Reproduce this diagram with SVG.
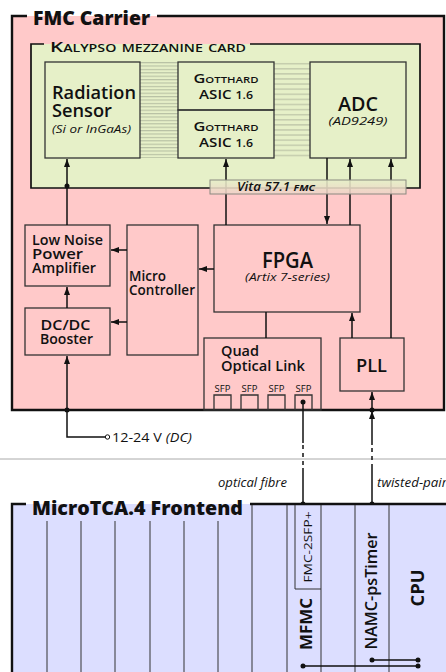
<svg xmlns="http://www.w3.org/2000/svg" width="446" height="672" viewBox="0 0 446 672">
<defs>
<style>
text{font-family:"Open Sans","Noto Sans","DejaVu Sans",sans-serif;fill:#111}
.box{fill:none;stroke:#333;stroke-width:1.3}
.frame{fill:none;stroke:#111;stroke-width:2.4}
.ln{fill:none;stroke:#111;stroke-width:1.5}
.dash{fill:none;stroke:#111;stroke-width:1.5;stroke-dasharray:4 4}
.slot{fill:none;stroke:#333;stroke-width:1}
.t14{font-size:13.5px;font-weight:600}
.it{font-style:italic}
.dot{fill:#111}
</style>
<marker id="ah" viewBox="0 0 8 8" refX="8" refY="4" markerWidth="8" markerHeight="8" markerUnits="userSpaceOnUse" orient="auto"><path d="M0,1 L8,4 L0,7 z" fill="#111"/></marker>
<linearGradient id="vita" x1="0" y1="0" x2="0" y2="1"><stop offset="0" stop-color="#e6efc8"/><stop offset="1" stop-color="#f0d2c8"/></linearGradient>
<pattern id="h1" width="6" height="3.4" patternUnits="userSpaceOnUse"><rect width="6" height="3.4" fill="#e6f0c8"/><line x1="0" y1="1.5" x2="6" y2="1.5" stroke="#9fa68f" stroke-width="0.8"/></pattern>
<pattern id="h2" width="6" height="5.1" patternUnits="userSpaceOnUse"><rect width="6" height="5.1" fill="#e6f0c8"/><line x1="0" y1="2.5" x2="6" y2="2.5" stroke="#9fa68f" stroke-width="0.8"/></pattern>
</defs>

<rect width="446" height="672" fill="#fff"/>
<line x1="0" y1="459" x2="446" y2="459" stroke="#aaa" stroke-width="1"/>

<g id="fmc-carrier">
<rect x="12" y="16" width="432" height="394" fill="#ffc9c9"/>
<path class="frame" d="M27,16 H12 V410 H444 V16 H157"/>
<text x="33" y="25" font-size="18.5" font-weight="800" textLength="117" lengthAdjust="spacingAndGlyphs">FMC Carrier</text>
</g>

<g id="kalypso">
<rect x="31" y="44" width="389" height="144" fill="#e6f0c8"/>
<path fill="none" stroke="#111" stroke-width="1.7" d="M44,44 H31 V188 H420 V44 H250"/>
<text x="50" y="52" font-size="14.5" font-variant="small-caps" font-weight="600" textLength="196" lengthAdjust="spacingAndGlyphs">Kalypso mezzanine card</text>
</g>

<g id="hatch">
<rect x="140" y="62" width="38" height="96" fill="url(#h1)"/>
<rect x="274" y="62" width="36" height="96" fill="url(#h2)"/>
</g>

<g id="sensor">
<rect class="box" x="45" y="62" width="95" height="96"/>
<text x="52" y="99" font-size="18" font-weight="600" textLength="84" lengthAdjust="spacingAndGlyphs">Radiation</text>
<text x="52" y="117" font-size="18" font-weight="600" textLength="60" lengthAdjust="spacingAndGlyphs">Sensor</text>
<text x="52" y="133" font-size="10.5" class="it" textLength="79" lengthAdjust="spacingAndGlyphs">(Si or InGaAs)</text>
</g>

<g id="asic1">
<rect class="box" x="178" y="62" width="96" height="48"/>
<text x="226" y="83" font-size="13" font-weight="600" font-variant="small-caps" text-anchor="middle" textLength="65" lengthAdjust="spacingAndGlyphs">Gotthard</text>
<text x="226" y="99" font-size="13" font-weight="600" text-anchor="middle" textLength="54" lengthAdjust="spacingAndGlyphs">ASIC <tspan font-size="10.5">1.6</tspan></text>
</g>
<g id="asic2">
<rect class="box" x="178" y="110" width="96" height="48"/>
<text x="226" y="131" font-size="13" font-weight="600" font-variant="small-caps" text-anchor="middle" textLength="65" lengthAdjust="spacingAndGlyphs">Gotthard</text>
<text x="226" y="147" font-size="13" font-weight="600" text-anchor="middle" textLength="54" lengthAdjust="spacingAndGlyphs">ASIC <tspan font-size="10.5">1.6</tspan></text>
</g>

<g id="adc">
<rect class="box" x="310" y="62" width="96" height="96"/>
<text x="358" y="111" font-size="20" font-weight="600" text-anchor="middle" textLength="40" lengthAdjust="spacingAndGlyphs">ADC</text>
<text x="358" y="125" font-size="11" class="it" text-anchor="middle" textLength="59" lengthAdjust="spacingAndGlyphs">(AD9249)</text>
</g>

<g id="lnpa">
<rect class="box" x="25" y="225" width="85" height="61"/>
<text x="32" y="245" class="t14" textLength="71" lengthAdjust="spacingAndGlyphs">Low Noise</text>
<text x="32" y="259" class="t14" textLength="51" lengthAdjust="spacingAndGlyphs">Power</text>
<text x="32" y="273" class="t14" textLength="64" lengthAdjust="spacingAndGlyphs">Amplifier</text>
</g>

<g id="dcdc">
<rect class="box" x="25" y="308" width="85" height="47"/>
<text x="65.5" y="330" class="t14" text-anchor="middle" textLength="50" lengthAdjust="spacingAndGlyphs">DC/DC</text>
<text x="66.5" y="344" class="t14" text-anchor="middle" textLength="53" lengthAdjust="spacingAndGlyphs">Booster</text>
</g>

<g id="micro">
<rect class="box" x="127" y="225" width="71" height="130"/>
<text x="129" y="281" class="t14" textLength="37" lengthAdjust="spacingAndGlyphs">Micro</text>
<text x="129" y="295" class="t14" textLength="66" lengthAdjust="spacingAndGlyphs">Controller</text>
</g>

<g id="fpga">
<rect class="box" x="214" y="225" width="146" height="87"/>
<text x="287.5" y="268" font-size="21" font-weight="600" text-anchor="middle" textLength="51" lengthAdjust="spacingAndGlyphs">FPGA</text>
<text x="287.5" y="281" font-size="11.5" class="it" text-anchor="middle" textLength="85" lengthAdjust="spacingAndGlyphs">(Artix 7-series)</text>
</g>

<g id="quad">
<rect class="box" x="204" y="338" width="117" height="72"/>
<text x="221" y="356" class="t14" textLength="38" lengthAdjust="spacingAndGlyphs">Quad</text>
<text x="221" y="371" class="t14" textLength="84" lengthAdjust="spacingAndGlyphs">Optical Link</text>
<g font-size="9.5" text-anchor="middle">
<text x="222.5" y="392">SFP</text><text x="249.5" y="392">SFP</text><text x="276.5" y="392">SFP</text><text x="303.5" y="392">SFP</text>
</g>
<path class="box" d="M214,410 V395 H231 V410 M241,410 V395 H258 V410 M268,410 V395 H285 V410 M295,410 V395 H312 V410"/>
</g>

<g id="pll">
<rect class="box" x="340" y="338" width="64" height="53"/>
<text x="371.5" y="372" font-size="18" font-weight="600" text-anchor="middle" textLength="31" lengthAdjust="spacingAndGlyphs">PLL</text>
</g>

<g id="connectors">
<path class="ln" d="M67,225 V159" marker-end="url(#ah)"/>
<circle class="dot" cx="67" cy="186" r="2.5"/>
<path class="ln" d="M226,225 V159" marker-end="url(#ah)"/>
<path class="ln" d="M327,158 V224" marker-end="url(#ah)"/>
<path class="ln" d="M350,225 V159" marker-end="url(#ah)"/>
<path class="ln" d="M391,338 V159" marker-end="url(#ah)"/>
<path class="ln" d="M127,250 H111" marker-end="url(#ah)"/>
<path class="ln" d="M127,322 H111" marker-end="url(#ah)"/>
<path class="ln" d="M214,269 H199" marker-end="url(#ah)"/>
<path class="ln" d="M67,308 V287" marker-end="url(#ah)"/>
<path class="ln" d="M67,410 V356" marker-end="url(#ah)"/>
<path class="ln" d="M67,410 V437 H105"/>
<circle cx="107.5" cy="437" r="2.2" fill="#fff" stroke="#111" stroke-width="1"/>
<circle class="dot" cx="67" cy="410" r="2.5"/>
<path class="ln" d="M266,312 V338"/>
<path class="ln" d="M352,338 V313" marker-end="url(#ah)"/>
<path class="ln" d="M303,402 V443"/>
<path class="dash" d="M303,445 V468"/>
<path class="ln" d="M303,468 V504"/>
<circle class="dot" cx="303" cy="402" r="2.5"/>
<circle class="dot" cx="303" cy="504" r="2.5"/>
<path class="ln" d="M372,504 V468"/>
<path class="dash" d="M372,468 V445"/>
<path class="ln" d="M372,445 V411" marker-end="url(#ah)"/>
<path class="ln" d="M372,410 V392" marker-end="url(#ah)"/>
<circle class="dot" cx="372" cy="410" r="2.5"/>
<circle class="dot" cx="372" cy="504" r="2.5"/>
</g>

<g id="vita">
<rect x="210" y="180" width="196" height="14" fill="url(#vita)" fill-opacity="0.88" stroke="#8a8a80" stroke-width="1"/>
<text x="237" y="191" font-size="12" class="it" font-weight="600" textLength="78" lengthAdjust="spacingAndGlyphs">Vita 57.1 <tspan font-size="9.5" font-weight="700">FMC</tspan></text>
</g>

<g id="labels">
<text x="112" y="442" font-size="13" font-weight="500" textLength="80" lengthAdjust="spacingAndGlyphs">12-24 V <tspan class="it">(DC)</tspan></text>
<text x="287" y="487" font-size="12" class="it" text-anchor="end" textLength="69" lengthAdjust="spacingAndGlyphs">optical fibre</text>
<text x="377" y="487" font-size="12" class="it" textLength="70" lengthAdjust="spacingAndGlyphs">twisted-pair</text>
</g>

<g id="frontend">
<rect x="12" y="504" width="440" height="180" fill="#dcdeff"/>
<path class="frame" d="M26,504 H12 V680 M250,504 H450"/>
<text x="32" y="515" font-size="19" font-weight="800" textLength="211" lengthAdjust="spacingAndGlyphs">MicroTCA.4 Frontend</text>
<path class="slot" d="M47,521 V672 M81,521 V672 M115,521 V672 M150,521 V672 M184,521 V672 M218,521 V672 M252,505 V672 M287,505 V672 M321,505 V672 M355,505 V672 M389,505 V672"/>
</g>

<g id="fmc-2sfp">
<path class="slot" d="M295,505 V589 H321"/>
<text transform="translate(312,547) rotate(-90)" font-size="11" text-anchor="middle" textLength="71" lengthAdjust="spacingAndGlyphs">FMC-2SFP+</text>
</g>
<g id="mfmc">
<text transform="translate(312,624) rotate(-90)" font-size="16" font-weight="700" text-anchor="middle" textLength="52" lengthAdjust="spacingAndGlyphs">MFMC</text>
</g>
<g id="namc">
<text transform="translate(377,591) rotate(-90)" font-size="16.5" font-weight="600" text-anchor="middle" textLength="117" lengthAdjust="spacingAndGlyphs">NAMC-psTimer</text>
</g>
<g id="cpu">
<text transform="translate(424,588) rotate(-90)" font-size="18" font-weight="700" text-anchor="middle" textLength="37" lengthAdjust="spacingAndGlyphs">CPU</text>
</g>

<g id="bus">
<path class="ln" d="M303,666 H418 M372,660 H418"/>
<circle class="dot" cx="303" cy="666" r="2.5"/>
<circle class="dot" cx="418" cy="666" r="2.5"/>
<circle class="dot" cx="372" cy="660" r="2.5"/>
<circle class="dot" cx="418" cy="660" r="2.5"/>
</g>
</svg>
